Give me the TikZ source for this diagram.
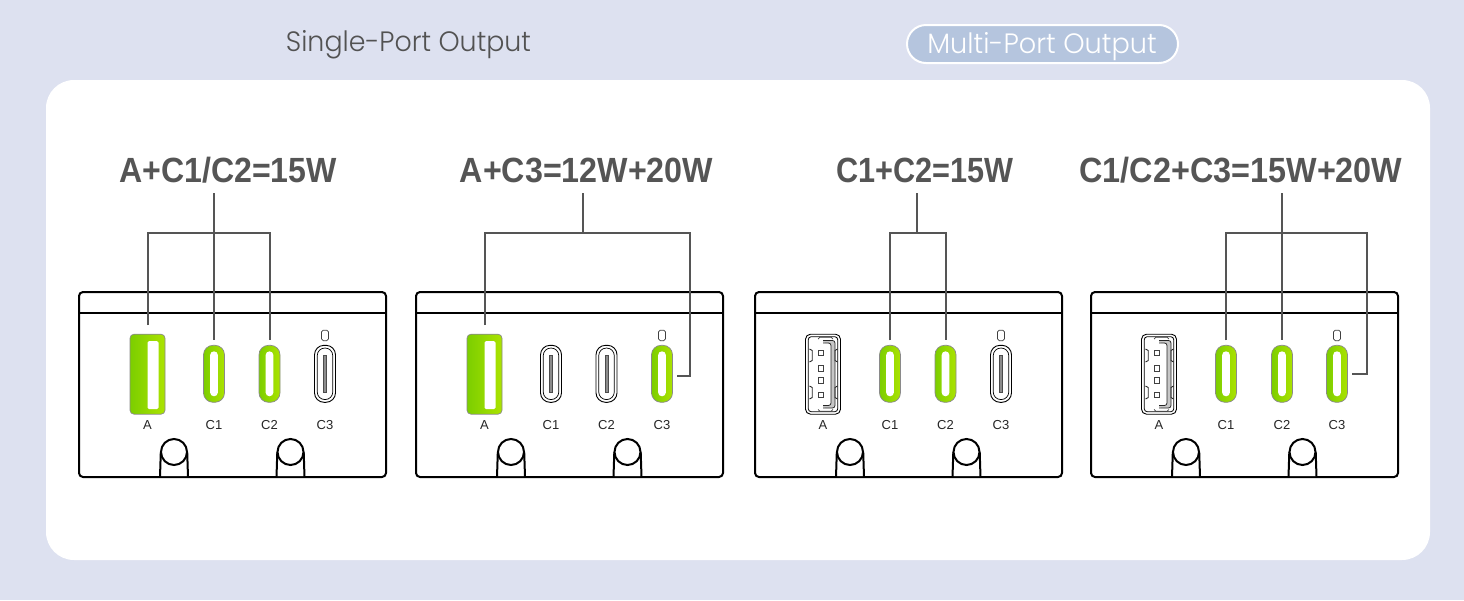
\documentclass[tikz,border=0pt]{standalone}
\usepackage{fontspec}
\usepackage{graphicx}
\setmainfont{Liberation Sans}
\newfontfamily\headfont{Poppins Light}
\usetikzlibrary{calc}
\definecolor{pagebg}{HTML}{DDE1F0}
\definecolor{pillfill}{HTML}{B5C5DE}
\definecolor{wirecol}{HTML}{555555}
\definecolor{greenL}{HTML}{7CCE00}
\definecolor{greenR}{HTML}{ABE300}
\definecolor{edgegray}{HTML}{8A8A8A}
\tikzset{
  wire/.style={draw=wirecol,line width=2pt},
  chassis/.style={draw=black,line width=2pt,fill=white,rounded corners=4pt,minimum width=307pt,minimum height=185pt,inner sep=0pt,outer sep=0pt,anchor=north west},
  portbase/.style={inner sep=0pt,outer sep=0pt},
  cshell/.style={portbase,minimum width=21pt,minimum height=57pt,rounded corners=9.5pt},
  ashell/.style={portbase,minimum width=35pt,minimum height=80pt,rounded corners=4pt},
  liton/.style={draw=edgegray,line width=.7pt,left color=greenL,right color=greenR},
  litoff/.style={draw=black,line width=.9pt,fill=white},
  slotwhite/.style={portbase,fill=white},
  portlabel/.style={font=\fontsize{13}{15}\selectfont,text=black!85,inner sep=0pt},
  titletext/.style={font=\fontsize{35}{38}\selectfont\bfseries,text=wirecol,minimum height=46pt,inner sep=0pt,outer sep=0pt},
  headtext/.style={font=\headfont\fontsize{28}{32}\selectfont,inner sep=0pt,anchor=base},
  knob/.style={draw=black,line width=2pt,fill=white},
}
% USB-C socket lit green
\newcommand{\conport}[3]{%
  \node[cshell,liton] (#1) at (#2,373.8) {};
  \node[slotwhite,minimum width=7.8pt,minimum height=45pt,rounded corners=3.9pt] (#1-slot) at (#1) {};
  \node[portlabel] (#1-lb) at (#2,425) {#3};
}
% USB-C socket idle, with a double outline and a central blade
\newcommand{\coffport}[3]{%
  \node[cshell,litoff] (#1) at (#2,373.8) {};
  \node[portbase,draw=black,line width=.7pt,minimum width=15.5pt,minimum height=51.5pt,rounded corners=7.5pt] (#1-rim) at (#1) {};
  \node[portbase,draw=black!70,fill=black!45,line width=.5pt,minimum width=2.6pt,minimum height=37pt] (#1-slot) at (#1) {};
  \node[portlabel] (#1-lb) at (#2,425) {#3};
}
% Small device mark over the C3 socket
\newcommand{\lockmark}[2]{%
  \node[portbase,draw=black!75,line width=.7pt,fill=white,minimum width=7pt,minimum height=10.5pt,rounded corners=1.8pt] (#1) at (#2,335.4) {};
}
% USB-A socket lit green
\newcommand{\aonport}[2]{%
  \node[ashell,liton] (#1) at (#2,374.2) {};
  \node[slotwhite,minimum width=11pt,minimum height=68pt,rounded corners=1.5pt] (#1-slot) at (#2+5.5,375.2) {};
  \node[portlabel] (#1-lb) at (#2,425) {A};
}
% USB-A socket idle: shell, open tongue, four pins and four clips
\newcommand{\aoffport}[2]{%
  \node[ashell,litoff,rounded corners=5pt] (#1) at (#2,374.2) {};
  \node[portbase,draw=black,line width=.8pt,minimum width=29.5pt,minimum height=75pt,rounded corners=3pt] (#1-rim) at (#1) {};
  % tab lines at the top and bottom of the shell
  \draw[black!75,line width=.7pt] (#2-5,339) -- (#2-3,337.2) -- (#2+8,337.2) -- (#2+10,339);
  \draw[black!75,line width=.7pt] (#2-5,409.5) -- (#2-3,411.3) -- (#2+8,411.3) -- (#2+10,409.5);
  % tongue, open towards the pins
  \fill[black!22,rounded corners=2.5pt] (#2,340.5) -- (#2+12,340.5) -- (#2+12,408) -- (#2,408) -- (#2,405.5) -- (#2+8,405.5) -- (#2+8,343) -- (#2,343) -- cycle;
  \draw[black!85,line width=.8pt,rounded corners=2.5pt] (#2,340.5) -- (#2+12,340.5) -- (#2+12,408) -- (#2,408);
  \draw[black!85,line width=.8pt,rounded corners=2.5pt] (#2,343) -- (#2+8,343) -- (#2+8,405.5) -- (#2,405.5);
  \foreach \py in {352.7,368.2,380.2,394.7}
    \draw[black!75,line width=.7pt,fill=white] (#2-4.8,\py-2.7) rectangle (#2+.3,\py+2.7);
  \foreach \py/\pz in {349/362,386/399}{
    \draw[black!85,line width=.9pt] (#2-13.5,\py) -- (#2-10.8,\py+1.5) -- (#2-10.8,\pz-1.5) -- (#2-13.5,\pz);
    \draw[black!85,line width=.9pt] (#2+14.5,\py) -- (#2+12,\py+1.5) -- (#2+12,\pz-1.5) -- (#2+14.5,\pz);
  }
  \node[portlabel] (#1-lb) at (#2,425) {A};
}
% Device housing with its divider and two feet; #1 is the id, #2 the left edge
\newcommand{\housing}[2]{%
  \node[chassis] (#1) at (#2,292) {};
  \draw[black,line width=2pt] (#2,313) -- (#2+307,313);
  \foreach \kx in {95,211.5}{
    \fill[white] (#2+\kx-14,476) -- (#2+\kx-13.2,452) -- (#2+\kx+13.2,452) -- (#2+\kx+14,476) -- cycle;
    \draw[black,line width=2pt] (#2+\kx-14,477) -- (#2+\kx-13.2,452) (#2+\kx+13.2,452) -- (#2+\kx+14,477);
    \draw[knob] (#2+\kx,452) circle[radius=13];
  }
}
\begin{document}
\begin{tikzpicture}[x=1pt,y=-1pt]
\useasboundingbox (0,0) rectangle (1464,600);
\fill[pagebg] (0,0) rectangle (1464,600);
\fill[white,rounded corners=28pt] (46,80) rectangle (1430,560);

% Column headings
\node[headtext,text=black!68] (headsingle) at (408.5,51.7) {\scalebox{.96}[1]{Single-Port Output}};
\node[draw=white,line width=2pt,fill=pillfill,rounded corners=19pt,minimum width=271pt,minimum height=38pt,inner sep=0pt] (pill) at (1042.5,44) {};
\node[headtext,text=white] (headmulti) at (1042,53.3) {\scalebox{.97}[1]{Multi-Port Output}};

% Power titles
\node[titletext] (t1) at (228,170) {\scalebox{.917}[1]{A+C1/C2=15W}};
\node[titletext] (t2) at (586.5,170) {\scalebox{.921}[1]{A+C3=12W+20W}};
\node[titletext] (t3) at (925,170) {\scalebox{.876}[1]{C1+C2=15W}};
\node[titletext] (t4) at (1241,170) {\scalebox{.925}[1]{C1/C2+C3=15W+20W}};

% Housings
\housing{d1}{79}
\housing{d2}{416}
\housing{d3}{755}
\housing{d4}{1091}

% Ports of each device
\aonport{d1A}{147.5}
\conport{d1C1}{214}{C1}
\conport{d1C2}{269.5}{C2}
\coffport{d1C3}{325}{C3}
\lockmark{d1L}{325}

\aonport{d2A}{484.5}
\coffport{d2C1}{551}{C1}
\coffport{d2C2}{606.5}{C2}
\conport{d2C3}{662}{C3}
\lockmark{d2L}{662}

\aoffport{d3A}{823}
\conport{d3C1}{890}{C1}
\conport{d3C2}{945.5}{C2}
\coffport{d3C3}{1001}{C3}
\lockmark{d3L}{1001}

\aoffport{d4A}{1159}
\conport{d4C1}{1226}{C1}
\conport{d4C2}{1282}{C2}
\conport{d4C3}{1337}{C3}
\lockmark{d4L}{1337}

% Bus junctions and outer corners of the connectors
\coordinate (j1) at (214,233);
\coordinate (j2) at (583,233);
\coordinate (j3) at (917,233);
\coordinate (j4) at (1282,233);
\coordinate (r2) at (690,233);
\coordinate (r4) at (1367,233);

% First device
\draw[wire] (t1.south -| j1) -- (j1);
\draw[wire,shorten <=9pt,shorten >=5pt] (d1A.north) |- (j1) -| (d1C2.north);
\draw[wire,shorten >=5pt] (j1) -- (d1C1.north);

% Second device
\draw[wire] (t2.south -| j2) -- (j2);
\draw[wire,shorten <=9pt,shorten >=4pt] (d2A.north) |- (j2) -- (r2) |- ([yshift=-2pt]d2C3.east);

% Third device
\draw[wire] (t3.south -| j3) -- (j3);
\draw[wire,shorten <=5pt,shorten >=5pt] (d3C1.north) |- (j3) -| (d3C2.north);

% Fourth device
\draw[wire] (t4.south -| j4) -- (j4);
\draw[wire,shorten <=5pt,shorten >=4pt] (d4C1.north) |- (j4) -- (r4) |- (d4C3.east);
\draw[wire,shorten >=5pt] (j4) -- (d4C2.north);
\end{tikzpicture}
\end{document}
